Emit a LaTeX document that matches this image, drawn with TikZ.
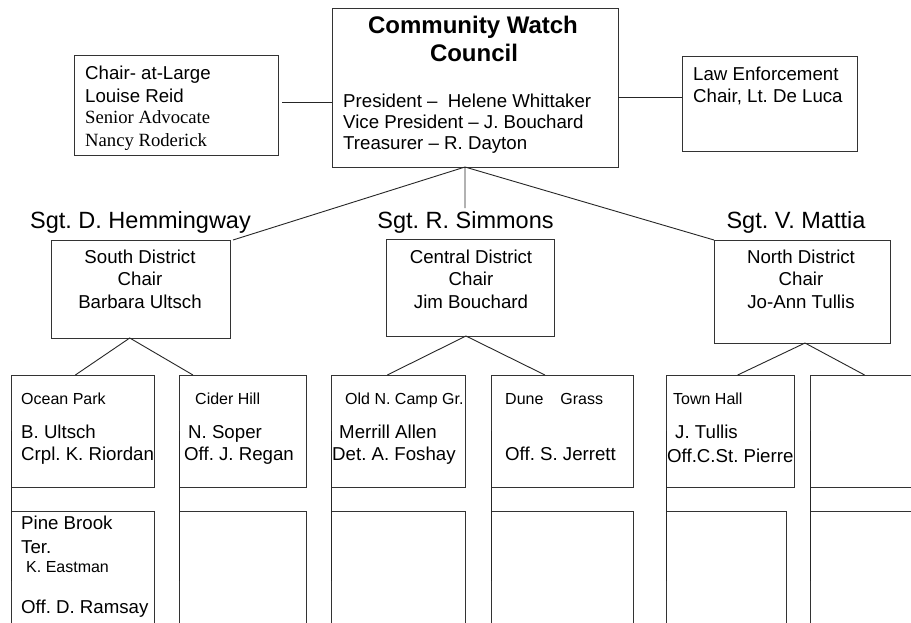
\documentclass[tikz,border=0pt]{standalone}
\usepackage{fontspec}
\setmainfont{Liberation Sans}
\newfontfamily\tmsfont{Liberation Serif}
\usetikzlibrary{calc}
\frenchspacing
\newcommand\myBody{\fontsize{18.67}{22}\selectfont}
\newcommand\myTitle{\fontsize{24}{28}\selectfont\bfseries}
\newcommand\mySgt{\fontsize{23.5}{28}\selectfont}
\newcommand\mySmall{\fontsize{16}{19}\selectfont}
\begin{document}
\begin{tikzpicture}[x=1pt,y=-1pt,
 box/.style={draw=black!80, line width=1pt, inner sep=0, outer sep=0, anchor=north west},
 lw/.style={inner sep=0, anchor=base west, font=\myBody},
 sw/.style={inner sep=0, anchor=base west, font=\mySmall},
 tw/.style={inner sep=0, anchor=base west, font=\myBody\tmsfont},
 lc/.style={inner sep=0, anchor=base, font=\myBody},
 sg/.style={inner sep=0, anchor=base, font=\mySgt},
 link/.style={draw=black!85, line width=0.9pt}]
\useasboundingbox (0,0) rectangle (911,622);
\fill[white] (0,0) rectangle (911,622);
\clip (0,0) rectangle (911,622);

% --- top level boxes
\node[box, minimum width=286, minimum height=159] (top) at (332,8) {};
\node[box, minimum width=204, minimum height=100] (lb) at (74,55) {};
\node[box, minimum width=175, minimum height=95] (rb) at (682,56) {};

% --- district boxes
\node[box, minimum width=179, minimum height=98] (sd) at (51,240) {};
\node[box, minimum width=168, minimum height=97] (cd) at (386,239) {};
\node[box, minimum width=176, minimum height=103] (nd) at (714,240) {};

% --- neighbourhood boxes, upper row
\node[box, minimum width=143, minimum height=112] (c1) at (11,375) {};
\node[box, minimum width=127, minimum height=112] (c2) at (179,375) {};
\node[box, minimum width=134, minimum height=112] (c3) at (331,375) {};
\node[box, minimum width=142, minimum height=112] (c4) at (491,375) {};
\node[box, minimum width=128, minimum height=112] (c5) at (666,375) {};
\node[box, minimum width=130, minimum height=112] (c6) at (810,375) {};

% --- lower row
\node[box, minimum width=143, minimum height=140] (d1) at (11,511) {};
\node[box, minimum width=127, minimum height=140] (d2) at (179,511) {};
\node[box, minimum width=134, minimum height=140] (d3) at (331,511) {};
\node[box, minimum width=142, minimum height=140] (d4) at (491,511) {};
\node[box, minimum width=120, minimum height=140] (d5) at (666,511) {};
\node[box, minimum width=130, minimum height=140] (d6) at (810,511) {};

% --- texts: top box
\node[inner sep=0, anchor=base, font=\myTitle] (tt1) at (473,33) {Community Watch};
\node[inner sep=0, anchor=base, font=\myTitle] (tt2) at (474,61) {Council};
\node[lw] (tp1) at (343,107) {President –\ \ Helene Whittaker};
\node[lw] (tp2) at (343,128) {Vice President – J. Bouchard};
\node[lw] (tp3) at (343,149) {Treasurer – R. Dayton};

% left box
\node[lw] (la1) at (85,79) {Chair- at-Large};
\node[lw] (la2) at (85,102) {Louise Reid};
\node[tw] (la3) at (85,123) {Senior Advocate};
\node[tw] (la4) at (85,146) {Nancy Roderick};

% right box
\node[lw] (ra1) at (693,80) {Law Enforcement};
\node[lw] (ra2) at (693,102) {Chair, Lt. De Luca};

% sergeants
\node[sg] (sg1) at (140.5,228) {Sgt. D. Hemmingway};
\node[sg] (sg2) at (465.5,228) {Sgt. R. Simmons};
\node[sg] (sg3) at (796,228) {Sgt. V. Mattia};

% district texts
\node[lc] (s1) at (140,263) {South District};
\node[lc] (s2) at (140,285.5) {Chair};
\node[lc] (s3) at (140,308) {Barbara Ultsch};
\node[lc] (m1) at (471,263) {Central District};
\node[lc] (m2) at (471,285.5) {Chair};
\node[lc] (m3) at (471,308) {Jim Bouchard};
\node[lc] (n1) at (801,263) {North District};
\node[lc] (n2) at (801,285.5) {Chair};
\node[lc] (n3) at (801,308) {Jo-Ann Tullis};

% neighbourhood texts
\node[sw] (o1) at (21,404) {Ocean Park};
\node[lw] (o2) at (21,438) {B. Ultsch};
\node[lw] (o3) at (21,460) {Crpl. K. Riordan};
\node[sw] (h1) at (195,404) {Cider Hill};
\node[lw] (h2) at (188,438) {N. Soper};
\node[lw] (h3) at (184,460) {Off. J. Regan};
\node[sw] (g1) at (345,404) {Old N. Camp Gr.};
\node[lw] (g2) at (339,438) {Merrill Allen};
\node[lw] (g3) at (332,460) {Det. A. Foshay};
\node[sw] (u1) at (505,404) {Dune\hspace{17pt}Grass};
\node[lw] (u3) at (505,460) {Off. S. Jerrett};
\node[sw] (w1) at (673,404) {Town Hall};
\node[lw] (w2) at (675,438) {J. Tullis};
\node[lw] (w3) at (667,462) {Off.C.St. Pierre};
\node[lw] (p1) at (21,529) {Pine Brook};
\node[lw] (p2) at (21,553) {Ter.};
\node[sw] (p3) at (26,572) {K. Eastman};
\node[lw] (p4) at (21,613) {Off. D. Ramsay};

% --- connectors
\coordinate (lcon) at (282,102);
\coordinate (rcon) at (682,97);
\coordinate (mid) at (465,208);
\coordinate (apex) at ($(top.south west)!0.465!(top.south east)$);
\draw[link] (lcon) -- (lcon -| top.west);
\draw[link] (rcon -| top.east) -- (rcon);
\draw[link] (apex) -- ([xshift=3pt]sd.north east);
\draw[link] (apex) -- (mid);
\draw[link] (apex) -- (nd.north west);

\draw[link] ($(c1.north west)!0.45!(c1.north east)$) -- ($(sd.south west)!0.44!(sd.south east)$) -- ($(c2.north west)!0.11!(c2.north east)$);
\draw[link] ($(c3.north west)!0.42!(c3.north east)$) -- ($(cd.south west)!0.476!(cd.south east)$) -- ($(c4.north west)!0.38!(c4.north east)$);
\draw[link] ($(c5.north west)!0.56!(c5.north east)$) -- ($(nd.south west)!0.517!(nd.south east)$) -- ($(c6.north west)!0.42!(c6.north east)$);

\foreach \u/\l in {c1/d1,c2/d2,c3/d3,c4/d4,c5/d5,c6/d6}
  \draw[link] (\u.west) -- (\l.west);
\end{tikzpicture}
\end{document}
